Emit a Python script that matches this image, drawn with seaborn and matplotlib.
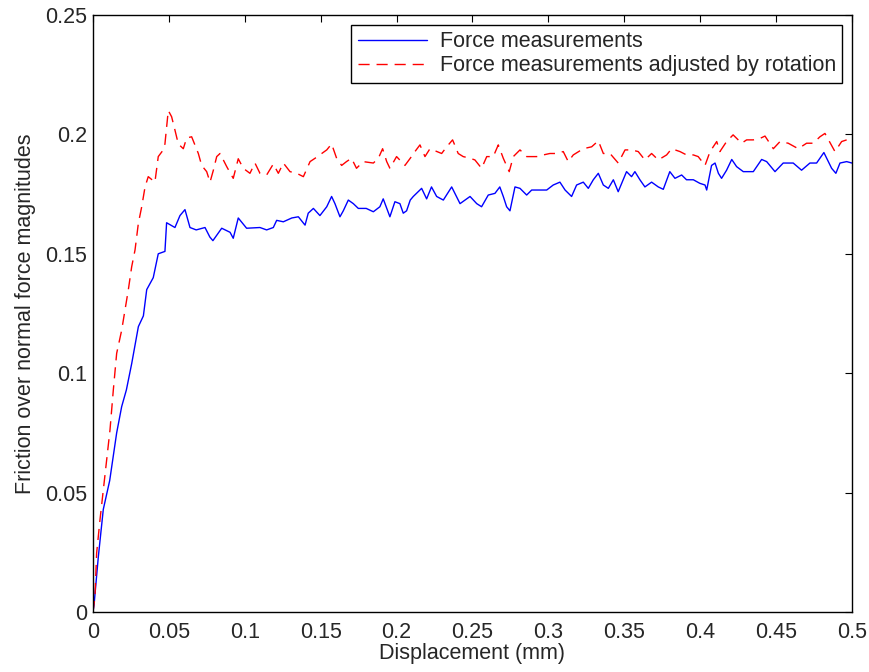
import matplotlib
matplotlib.use('Agg')
import matplotlib.pyplot as plt
import pandas as pd
import seaborn as sns

# values
force_x = [0.0, 0.0007, 0.0035, 0.0068, 0.011, 0.0156, 0.0189, 0.022, 0.0255, 0.0299,
           0.0332, 0.0354, 0.0397, 0.043, 0.0474, 0.0485, 0.054, 0.0573, 0.0606, 0.0639,
           0.068, 0.0738, 0.077, 0.079, 0.0848, 0.0903, 0.0924, 0.0957, 0.1012, 0.110,
           0.1144, 0.1188, 0.121, 0.1254, 0.131, 0.1353, 0.1397, 0.1418, 0.1452, 0.1495,
           0.154, 0.1572, 0.1594, 0.1627, 0.1649, 0.1682, 0.1715, 0.1748, 0.180, 0.1847,
           0.189, 0.1912, 0.1956, 0.1989, 0.2022, 0.2044, 0.2066, 0.209, 0.211, 0.2165,
           0.2198, 0.223, 0.2264, 0.2308, 0.2363, 0.2418, 0.2484, 0.2528, 0.256, 0.2604,
           0.2648, 0.268, 0.2703, 0.2725, 0.2747, 0.278, 0.2813, 0.2857, 0.289, 0.2989,
           0.3032, 0.3076, 0.311, 0.3153, 0.3186, 0.323, 0.3263, 0.3296, 0.3329, 0.3362,
           0.3395, 0.3428, 0.346, 0.3515, 0.3548, 0.357, 0.3603, 0.3636, 0.368, 0.3724,
           0.3757, 0.380, 0.3834, 0.3878, 0.391, 0.3955, 0.3998, 0.4032, 0.4043, 0.4075,
           0.4098, 0.412, 0.4141, 0.4174, 0.4208, 0.424, 0.4284, 0.435, 0.4405, 0.4438,
           0.4493, 0.4547, 0.4613, 0.4668, 0.4723, 0.4767, 0.4815, 0.4866, 0.4894, 0.4921,
           0.4965, 0.5]
force_y = [0.0, 0.003, 0.023, 0.043, 0.055, 0.075, 0.086, 0.093, 0.104, 0.1195,
           0.124, 0.135, 0.140, 0.150, 0.151, 0.163, 0.161, 0.166, 0.1685, 0.161,
           0.160, 0.161, 0.157, 0.1555, 0.1607, 0.159, 0.1565, 0.165, 0.1607, 0.161,
           0.160, 0.161, 0.164, 0.1634, 0.165, 0.1655, 0.162, 0.167, 0.169, 0.166,
           0.1697, 0.174, 0.171, 0.1655, 0.168, 0.1725, 0.171, 0.169, 0.169, 0.1676,
           0.1697, 0.173, 0.1655, 0.1718, 0.171, 0.167, 0.168, 0.1725, 0.174, 0.1774,
           0.173, 0.178, 0.174, 0.1725, 0.178, 0.171, 0.174, 0.171, 0.1697, 0.1746,
           0.1753, 0.178, 0.174, 0.1697, 0.168, 0.178, 0.1774, 0.1746, 0.1767, 0.1767,
           0.1788, 0.180, 0.1767, 0.174, 0.1788, 0.180, 0.1774, 0.181, 0.1837, 0.1788,
           0.1774, 0.181, 0.176, 0.1844, 0.1823, 0.1844, 0.181, 0.178, 0.180, 0.178,
           0.177, 0.1844, 0.1816, 0.183, 0.181, 0.181, 0.1795, 0.1788, 0.1767, 0.187,
           0.188, 0.1837, 0.1816, 0.185, 0.1895, 0.1865, 0.1844, 0.1844, 0.1895, 0.1886,
           0.1844, 0.188, 0.188, 0.185, 0.188, 0.188, 0.1924, 0.1858, 0.1837, 0.188,
           0.1886, 0.188]

adjusted_x = [0.0, 0.0013, 0.0024, 0.0046, 0.0068, 0.009, 0.0112, 0.0134, 0.0156, 0.0189,
              0.0211, 0.0233, 0.0255, 0.0277, 0.0299, 0.0321, 0.0343, 0.0364, 0.0408, 0.043,
              0.0463, 0.0474, 0.0496, 0.0518, 0.054, 0.0562, 0.0595, 0.0617, 0.065, 0.0694,
              0.0716, 0.0749, 0.0771, 0.0793, 0.0815, 0.0837, 0.0881, 0.0924, 0.0957, 0.099,
              0.1034, 0.1067, 0.110, 0.1144, 0.1188, 0.1221, 0.1254, 0.1298, 0.1342, 0.1386,
              0.143, 0.1463, 0.154, 0.1572, 0.1605, 0.1638, 0.167, 0.1703, 0.1736, 0.178,
              0.1847, 0.188, 0.1908, 0.1935, 0.1956, 0.2, 0.2055, 0.209, 0.2121, 0.2154,
              0.2187, 0.222, 0.2297, 0.233, 0.2369, 0.2406, 0.2439, 0.2484, 0.2516, 0.256,
              0.2594, 0.2637, 0.267, 0.2703, 0.2742, 0.2769, 0.2813, 0.2857, 0.2923, 0.2967,
              0.301, 0.3054, 0.3098, 0.3131, 0.3164, 0.323, 0.3285, 0.3329, 0.3362, 0.3406,
              0.346, 0.3505, 0.3548, 0.3592, 0.3636, 0.368, 0.3724, 0.3779, 0.3812, 0.3867,
              0.391, 0.3955, 0.3987, 0.4032, 0.4065, 0.4109, 0.413, 0.4174, 0.4217, 0.4273,
              0.4306, 0.435, 0.4394, 0.4427, 0.4482, 0.4526, 0.458, 0.4646, 0.4701, 0.4745,
              0.4789, 0.4822, 0.4888, 0.4932, 0.4965, 0.5]
adjusted_y = [0.0, 0.0064, 0.0246, 0.0385, 0.051, 0.0637, 0.0762, 0.093, 0.1083, 0.118,
              0.1265, 0.135, 0.1446, 0.1516, 0.1628, 0.1697, 0.178, 0.1823, 0.180, 0.1907,
              0.1935, 0.196, 0.210, 0.2074, 0.2018, 0.196, 0.194, 0.1985, 0.199, 0.192,
              0.187, 0.1844, 0.180, 0.185, 0.1907, 0.192, 0.1865, 0.1816, 0.1898, 0.1858,
              0.1837, 0.188, 0.1837, 0.183, 0.1876, 0.1837, 0.188, 0.1844, 0.1837, 0.1823,
              0.1886, 0.190, 0.1935, 0.196, 0.190, 0.187, 0.1886, 0.190, 0.1858, 0.1886,
              0.188, 0.190, 0.194, 0.1886, 0.1858, 0.1907, 0.187, 0.190, 0.1928, 0.1956,
              0.1907, 0.194, 0.192, 0.1948, 0.1977, 0.192, 0.1907, 0.190, 0.1893, 0.1858,
              0.1907, 0.1907, 0.1956, 0.190, 0.1844, 0.1907, 0.1935, 0.1907, 0.1907, 0.1914,
              0.192, 0.192, 0.1928, 0.1886, 0.1914, 0.194, 0.1948, 0.1973, 0.192, 0.192,
              0.188, 0.1935, 0.1935, 0.1928, 0.1893, 0.192, 0.1893, 0.1914, 0.194, 0.1928,
              0.1914, 0.1914, 0.1907, 0.187, 0.1928, 0.197, 0.1928, 0.197, 0.1998, 0.1963,
              0.1977, 0.1977, 0.1983, 0.1993, 0.194, 0.197, 0.1963, 0.194, 0.1963, 0.1963,
              0.199, 0.2004, 0.1928, 0.197, 0.1977, 0.198]

labels = ['Force measurements', 'Force measurements adjusted by rotation']
xticks = [0, 0.05, 0.1, 0.15, 0.2, 0.25, 0.3, 0.35, 0.4, 0.45, 0.5]
yticks = [0, 0.05, 0.1, 0.15, 0.2, 0.25]

FS = 15.5

sns.set_style('white')
plt.rcParams['font.family'] = ['Liberation Sans', 'DejaVu Sans']
plt.rcParams['font.size'] = FS
plt.rcParams['xtick.direction'] = 'in'
plt.rcParams['ytick.direction'] = 'in'

df_force = pd.DataFrame({'x': force_x, 'y': force_y})
df_adj = pd.DataFrame({'x': adjusted_x, 'y': adjusted_y})

fig, ax = plt.subplots(figsize=(8.69, 6.72), dpi=100)
fig.subplots_adjust(left=0.107, right=0.9804, top=0.9777, bottom=0.0893)

sns.lineplot(data=df_force, x='x', y='y', ax=ax, color='blue', linewidth=1.0,
             estimator=None, label=labels[0])
sns.lineplot(data=df_adj, x='x', y='y', ax=ax, color='red', linewidth=1.0,
             estimator=None, label=labels[1])
ax.lines[1].set_dashes((8, 5))

ax.set_xlim(0, 0.5)
ax.set_ylim(0, 0.25)
ax.set_xticks(xticks)
ax.set_yticks(yticks)
ax.set_xticklabels([f'{t:g}' for t in xticks])
ax.set_yticklabels([f'{t:g}' for t in yticks])
ax.tick_params(which='both', direction='in', length=5, width=0.8, color='black',
               top=True, right=True, labelsize=FS, pad=4)
ax.tick_params(axis='x', pad=7)
for s in ax.spines.values():
    s.set_visible(True)
    s.set_color('black')
    s.set_linewidth(1.0)

ax.set_xlabel('Displacement (mm)', fontsize=FS, labelpad=0)
ax.set_ylabel('Friction over normal force magnitudes', fontsize=FS, labelpad=7)

leg = ax.legend(loc='upper right', frameon=True, fancybox=False, edgecolor='black',
                framealpha=1, handlelength=3.2, handletextpad=0.6, borderpad=0.3,
                labelspacing=0.15, borderaxespad=0.45, fontsize=FS)
leg.get_frame().set_linewidth(1.0)

plt.savefig('out.png', dpi=100)
